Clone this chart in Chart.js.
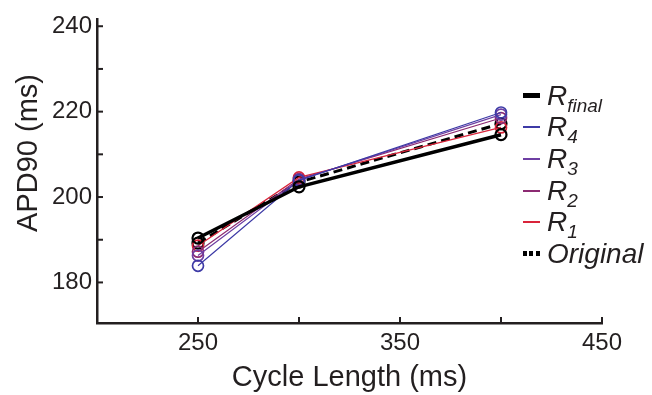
<!DOCTYPE html>
<html>
<head>
<meta charset="utf-8">
<script src="https://cdn.jsdelivr.net/npm/chart.js@4"></script>
<style>
  body { margin: 0; background: #fff; }
  #wrap { position: relative; width: 652px; height: 395px; }
  #legend { position: absolute; left: 523px; top: 80px; font-family: "Liberation Sans", Arial, sans-serif; color: #231f20; }
  .row { height: 31.6px; display: flex; align-items: center; white-space: nowrap; }
  .swatch { width: 17px; margin-right: 7px; }
  .lab { font-style: italic; font-size: 28px; line-height: 28px; }
  .lab sub { font-size: 19px; vertical-align: -7px; line-height: 0; }
</style>
</head>
<body>
<div id="wrap">
  <canvas id="chart" width="652" height="395"></canvas>
  <div id="legend"></div>
</div>
<script>
// cycle lengths (ms)
var cycleLengths = [250, 300, 400]

// APD90 (ms) per reconstruction
var rFinal = [190.4, 202.4, 214.6]
var r4 = [183.9, 203.9, 219.8]
var r3 = [186.3, 204.0, 219.3]
var r2 = [187.2, 204.2, 218.5]
var r1 = [188.6, 204.6, 216.3]
var original = [189.2, 203.5, 217.2]

var seriesNames = ['R', 'R', 'R', 'R', 'R', 'Original']
var seriesSubs = ['final', '4', '3', '2', '1', '']

var yTickValues = [180, 190, 200, 210, 220, 230, 240]
var yTickLabels = [180, 200, 220, 240]
var xTickValues = [200, 250, 300, 350, 400, 450]
var xTickLabels = [250, 350, 450]

var ink = '#231f20'
var font = '"Liberation Sans", Arial, sans-serif'

function pts(ys) {
    return cycleLengths.map(function (x, i) { return { x: x, y: ys[i] } })
}

function series(ys, color, width, dash) {
    return {
        data: pts(ys),
        borderColor: color,
        borderWidth: width,
        borderDash: dash || [],
        pointStyle: 'circle',
        pointRadius: 5.5,
        pointBorderWidth: width > 2 ? 2.2 : 1.7,
        pointBorderColor: color,
        pointBackgroundColor: 'rgba(0,0,0,0)',
        fill: false,
        tension: 0
    }
}

var styles = [
    { color: '#000000', width: 3.5 },
    { color: '#3d3aa6', width: 1.2 },
    { color: '#6e3fa3', width: 1.2 },
    { color: '#8c2a72', width: 1.2 },
    { color: '#d9243a', width: 1.2 },
    { color: '#000000', width: 3, dash: [9, 5] }
]

var allSeries = [rFinal, r4, r3, r2, r1, original]

// inward tick marks and the y title
var axisExtras = {
    id: 'axisExtras',
    afterDraw: function (chart) {
        var ctx = chart.ctx
        var area = chart.chartArea
        ctx.save()
        ctx.strokeStyle = ink
        ctx.lineWidth = 2
        chart.scales.y.ticks.forEach(function (t) {
            var py = chart.scales.y.getPixelForValue(t.value)
            ctx.beginPath()
            ctx.moveTo(area.left, py)
            ctx.lineTo(area.left + 6, py)
            ctx.stroke()
        })
        chart.scales.x.ticks.forEach(function (t) {
            var px = chart.scales.x.getPixelForValue(t.value)
            ctx.beginPath()
            ctx.moveTo(px, area.bottom)
            ctx.lineTo(px, area.bottom - 6)
            ctx.stroke()
        })
        ctx.translate(29, 153)
        ctx.rotate(-Math.PI / 2)
        ctx.fillStyle = ink
        ctx.font = '29px ' + font
        ctx.textAlign = 'center'
        ctx.textBaseline = 'middle'
        ctx.fillText('APD90 (ms)', 0, 0)
        ctx.restore()
    }
}

function showgraphic() {
    var ctx = document.getElementById('chart')

    new Chart(ctx, {
        type: 'line',
        data: {
            datasets: allSeries.map(function (ys, i) {
                return series(ys, styles[i].color, styles[i].width, styles[i].dash)
            })
        },
        options: {
            responsive: false,
            animation: false,
            layout: { padding: { top: 10, right: 50, left: 0, bottom: 0 } },
            scales: {
                x: {
                    type: 'linear',
                    min: 200,
                    max: 450,
                    afterBuildTicks: function (axis) {
                        axis.ticks = xTickValues.map(function (v) { return { value: v } })
                    },
                    afterFit: function (axis) { axis.height = 72 },
                    ticks: {
                        padding: 6,
                        color: ink,
                        font: { family: font, size: 24 },
                        maxRotation: 0,
                        autoSkip: false,
                        callback: function (v) { return xTickLabels.indexOf(v) >= 0 ? String(v) : '' }
                    },
                    grid: { display: false, drawTicks: false },
                    border: { display: true, color: ink, width: 2.5 },
                    title: {
                        display: true,
                        text: 'Cycle Length (ms)',
                        color: ink,
                        font: { family: font, size: 29 },
                        padding: { top: 0, bottom: 0 }
                    }
                },
                y: {
                    min: 170.5,
                    max: 241.6,
                    afterBuildTicks: function (axis) {
                        axis.ticks = yTickValues.map(function (v) { return { value: v } })
                    },
                    afterFit: function (axis) { axis.width = 97 },
                    ticks: {
                        padding: 5,
                        color: ink,
                        font: { family: font, size: 24 },
                        autoSkip: false,
                        callback: function (v) { return yTickLabels.indexOf(v) >= 0 ? String(v) : '' }
                    },
                    grid: { display: false, drawTicks: false },
                    border: { display: true, color: ink, width: 2.5 },
                    title: { display: false }
                }
            },
            plugins: {
                legend: { display: false },
                tooltip: { enabled: false }
            }
        },
        plugins: [axisExtras]
    })

    // legend built from the series names and styles
    var legend = document.getElementById('legend')
    seriesNames.forEach(function (name, i) {
        var row = document.createElement('div')
        row.className = 'row'
        var sw = document.createElement('div')
        sw.className = 'swatch'
        var st = styles[i]
        if (st.dash) {
            sw.style.height = '5px'
            sw.style.background = 'repeating-linear-gradient(90deg,#000 0 4px,transparent 4px 6.5px)'
        } else {
            sw.style.height = st.width > 2 ? '5px' : '2px'
            sw.style.background = st.color
        }
        var lab = document.createElement('span')
        lab.className = 'lab'
        lab.textContent = name
        if (seriesSubs[i]) {
            var sub = document.createElement('sub')
            sub.textContent = seriesSubs[i]
            lab.appendChild(sub)
        }
        row.appendChild(sw)
        row.appendChild(lab)
        legend.appendChild(row)
    })
}

document.addEventListener('DOMContentLoaded', showgraphic)
</script>
</body>
</html>
